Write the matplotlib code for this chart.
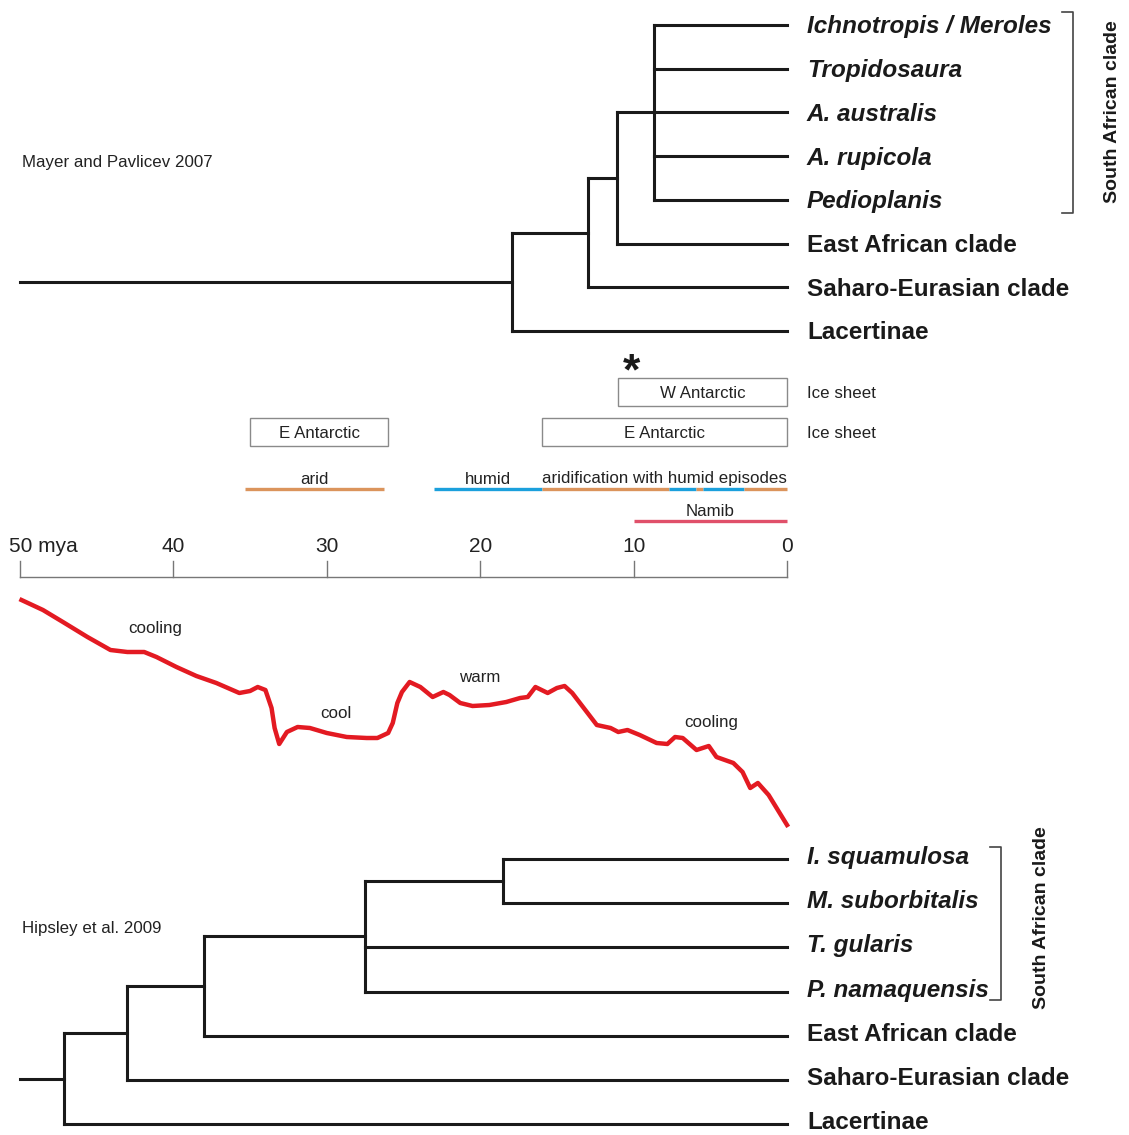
import matplotlib
matplotlib.use('Agg')
import matplotlib.pyplot as plt
from matplotlib.patches import Rectangle

plt.rcParams['font.family'] = ['Liberation Sans', 'DejaVu Sans']

# ── data ────────────────────────────────────────────────────────
# top tree (Mayer and Pavlicev 2007): ages in mya
top_tips = ['Ichnotropis / Meroles', 'Tropidosaura', 'A. australis', 'A. rupicola',
            'Pedioplanis', 'East African clade', 'Saharo-Eurasian clade', 'Lacertinae']
top_italic = [True, True, True, True, True, False, False, False]
top_tree = (17.9, [(13.0, [(11.1, [(8.7, [0, 1, 2, 3, 4]), 5]), 6]), 7])

# bottom tree (Hipsley et al. 2009)
bot_tips = ['I. squamulosa', 'M. suborbitalis', 'T. gularis', 'P. namaquensis',
            'East African clade', 'Saharo-Eurasian clade', 'Lacertinae']
bot_italic = [True, True, True, True, False, False, False]
bot_tree = (47.1, [(43.0, [(38.0, [(27.5, [(18.5, [0, 1]), 2, 3]), 4]), 5]), 6])

# ice sheets
ice_labels = ['W Antarctic', 'E Antarctic', 'E Antarctic']
ice_start = [11.0, 16.0, 35.0]
ice_end = [0.0, 0.0, 26.0]
ice_row = [0, 1, 1]

# climate bars
clim_start = [35.3, 23.0, 16.0, 7.7, 5.95, 5.5, 2.8]
clim_end = [26.3, 16.0, 7.7, 5.95, 5.5, 2.8, 0.0]
clim_type = ['arid', 'humid', 'arid', 'humid', 'arid', 'humid', 'arid']
clim_labels = ['arid', 'humid', 'aridification with humid episodes']
clim_label_range = [(35.3, 26.3), (23.0, 16.0), (16.0, 0.0)]
namib_range = (10.0, 0.0)

ticks = [50, 40, 30, 20, 10, 0]

# relative temperature curve
temp_age = [49.9, 48.5, 47.2, 45.6, 44.1, 43.0, 41.9, 41.1, 39.8, 38.5, 37.2, 35.7,
            35.0, 34.5, 34.0, 33.6, 33.4, 33.1, 32.6, 31.9, 31.1, 30.0, 28.7, 27.4,
            26.7, 26.0, 25.7, 25.4, 25.1, 24.6, 23.9, 23.1, 22.4, 22.0, 21.3, 20.5,
            19.4, 18.3, 17.4, 16.9, 16.4, 15.6, 15.0, 14.5, 14.0, 13.3, 12.4, 11.5,
            11.0, 10.4, 9.6, 8.5, 7.8, 7.3, 6.8, 5.9, 5.1, 4.6, 3.5, 2.9, 2.4, 1.9,
            1.2, 0.6, 0.0]
temp_val = [23.0, 22.0, 20.8, 19.3, 18.0, 17.8, 17.8, 17.3, 16.3, 15.4, 14.7, 13.7,
            13.9, 14.3, 14.0, 12.2, 10.2, 8.6, 9.8, 10.3, 10.2, 9.7, 9.3, 9.2,
            9.2, 9.7, 10.7, 12.7, 13.8, 14.8, 14.3, 13.3, 13.8, 13.5, 12.7, 12.4,
            12.5, 12.8, 13.2, 13.3, 14.3, 13.7, 14.2, 14.4, 13.7, 12.3, 10.5, 10.2,
            9.8, 10.0, 9.5, 8.7, 8.6, 9.3, 9.2, 8.0, 8.4, 7.3, 6.7, 5.8, 4.2, 4.7,
            3.5, 2.0, 0.5]
temp_notes = ['cooling', 'cool', 'warm', 'cooling']
temp_note_age = [41.2, 29.4, 20.0, 4.95]
temp_note_val = [20.2, 11.6, 15.3, 10.7]

# ── figure ──────────────────────────────────────────────────────
W, H = 1129, 1135
fig = plt.figure(figsize=(W / 100, H / 100), dpi=100)
XL = (51.30, -22.29)
ax = fig.add_axes([0, 0, 1, 1])
ax.set_xlim(*XL)
ax.set_ylim(H, 0)
ax.axis('off')

TREE = '#1a1a1a'
LX = -1.3  # label start (mya, right of present)


def draw_tree(tree, tips, italic, y0, dy, lab_dy=2, stem_from=50.0):
    ys = [y0 + i * dy for i in range(len(tips))]

    def rec(node):
        if isinstance(node, int):
            return 0.0, ys[node]
        age, kids = node
        pts = [rec(k) for k in kids]
        cy = [p[1] for p in pts]
        ax.plot([age, age], [min(cy), max(cy)], color=TREE, lw=2.2,
                solid_capstyle='projecting')
        for kx, ky in pts:
            ax.plot([age, kx], [ky, ky], color=TREE, lw=2.2,
                    solid_capstyle='projecting')
        return age, (min(cy) + max(cy)) / 2

    ra, ry = rec(tree)
    ax.plot([stem_from, ra], [ry, ry], color=TREE, lw=2.2)
    for name, y, it in zip(tips, ys, italic):
        ax.text(LX, y + lab_dy, name, fontsize=17.5, fontweight='bold',
                style='italic' if it else 'normal', ha='left', va='center',
                color='#1a1a1a')
    return ys


def bracket(x0, x1, ytop, ybot, label, lx, ly):
    ax.plot([x0, x1, x1, x0], [ytop, ytop, ybot, ybot], color='#444', lw=1.2)
    ax.text(lx, ly, label, rotation=90, fontsize=14, fontweight='bold',
            ha='center', va='center', color='#1a1a1a')


def px(x):
    return (787 - x) / 15.34


# top tree
draw_tree(top_tree, top_tips, top_italic, 25, 43.7)
ax.text(px(22), 162, 'Mayer and Pavlicev 2007', fontsize=12.2, ha='left',
        va='center', color='#222')
bracket(px(1062), px(1073), 12, 213, 'South African clade', px(1112), 112)

# bottom tree
draw_tree(bot_tree, bot_tips, bot_italic, 859, 44.2, lab_dy=-1.5)
ax.text(px(22), 928, 'Hipsley et al. 2009', fontsize=12.2, ha='left',
        va='center', color='#222')
bracket(px(990), px(1001), 847, 1000, 'South African clade', px(1041), 918)

# ice sheets
row_y = [378, 418]
for lab, s, e, r in zip(ice_labels, ice_start, ice_end, ice_row):
    y = row_y[r]
    ax.add_patch(Rectangle((s, y), e - s, 28, fill=False, ec='#8a8a8a', lw=1.0))
    ax.text((s + e) / 2, y + 15, lab, fontsize=12.2, ha='center', va='center',
            color='#222')
for y in row_y:
    ax.text(LX, y + 15, 'Ice sheet', fontsize=12.2, ha='left', va='center',
            color='#222')
ax.text(11.0 - 0.85, 373, '*', fontsize=32, fontweight='bold', ha='center',
        va='center', color='#1a1a1a')

# climate bars
ccol = {'arid': '#db945c', 'humid': '#1ba0dc'}
for s, e, t in zip(clim_start, clim_end, clim_type):
    ax.plot([s, e], [489, 489], color=ccol[t], lw=2.4, solid_capstyle='butt')
for lab, (s, e) in zip(clim_labels, clim_label_range):
    ax.text((s + e) / 2, 479, lab, fontsize=12.2, ha='center', va='center',
            color='#222')
ax.plot(namib_range, [521, 521], color='#e0506a', lw=2.4, solid_capstyle='butt')
ax.text(sum(namib_range) / 2, 511, 'Namib', fontsize=12.2, ha='center',
        va='center', color='#222')

# time axis
ax.plot([ticks[0], ticks[-1]], [577, 577], color='#777', lw=1.0)
for t in ticks:
    ax.plot([t, t], [561, 577], color='#777', lw=1.0)
    if t == ticks[0]:
        ax.annotate(f'{t} mya', (t, 547), xytext=(-8, 0),
                    textcoords='offset points', fontsize=15, ha='left',
                    va='center', color='#222')
    else:
        ax.text(t, 547, str(t), fontsize=15, ha='center', va='center',
                color='#222')

# temperature curve
axc = fig.add_axes([0, (H - 840) / H, 1, 260 / H])
axc.set_xlim(*XL)
axc.set_ylim(-1, 25)
axc.axis('off')
axc.patch.set_alpha(0)
axc.plot(temp_age, temp_val, color='#e31a22', lw=3.2, solid_joinstyle='round')
for lab, a, v in zip(temp_notes, temp_note_age, temp_note_val):
    axc.text(a, v, lab, fontsize=12.2, ha='center', va='center', color='#222')

fig.savefig('out.png', dpi=100, facecolor='white')
